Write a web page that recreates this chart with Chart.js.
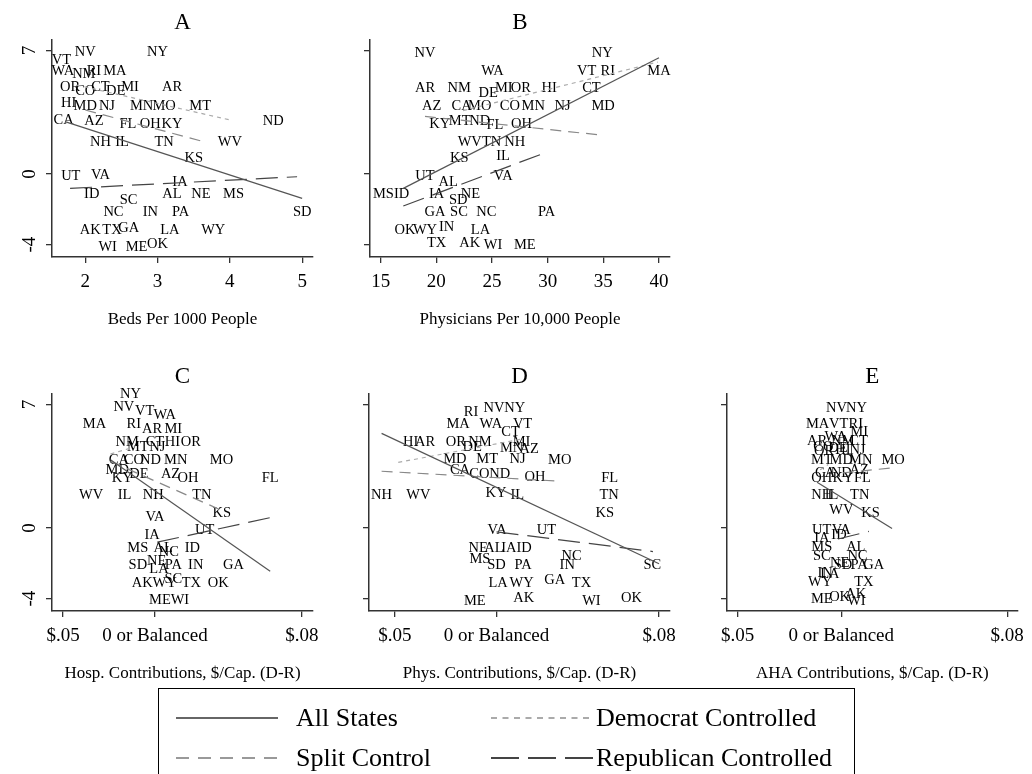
<!DOCTYPE html>
<html>
<head>
<meta charset="utf-8">
<script src="https://cdn.jsdelivr.net/npm/chart.js@4.4.1/dist/chart.umd.min.js"></script>
<style>
  body { margin: 0; background: #fff; }
  #wrap { position: relative; width: 1032px; height: 774px; overflow: hidden; background: #fff; }
  #wrap canvas { position: absolute; left: 0; top: 0; }
  #legend { position: absolute; left: 158px; top: 688px; width: 697px; height: 140px;
            border: 1px solid #000; box-sizing: border-box; font-family: "Liberation Serif", serif; }
  .item { position: absolute; height: 30px; }
  .item svg { position: absolute; top: 0; }
  .item span { position: absolute; top: 0; line-height: 30px; font-size: 26px; color: #000; white-space: nowrap; }
</style>
</head>
<body>
<div id="wrap">
  <canvas id="cA" width="1032" height="774"></canvas>
  <canvas id="cB" width="1032" height="774"></canvas>
  <canvas id="cC" width="1032" height="774"></canvas>
  <canvas id="cD" width="1032" height="774"></canvas>
  <canvas id="cE" width="1032" height="774"></canvas>
  <div id="legend"></div>
</div>
<script>
// State abbreviations (one label per state, same order in every panel)
const states = ['AK','AL','AR','AZ','CA','CO','CT','DE','FL','GA','HI','IA','ID','IL','IN','KS','KY','LA','MA','MD',
                'ME','MI','MN','MO','MS','MT','NC','ND','NE','NH','NJ','NM','NV','NY','OH','OK','OR','PA','RI','SC',
                'SD','TN','TX','UT','VA','VT','WA','WI','WV','WY'];

// Panel A: beds per 1000 people
const xA = [2.07,3.2,3.2,2.12,1.7,2.0,2.21,2.42,2.59,2.6,1.77,3.31,2.09,2.51,2.9,3.5,3.2,3.17,2.41,2.0,
            2.71,2.62,2.78,3.09,4.05,3.59,2.39,4.6,3.6,2.21,2.3,1.98,2.0,3.0,2.9,3.0,1.79,3.32,2.12,2.6,
            5.0,3.09,2.37,1.8,2.21,1.67,1.69,2.31,4.0,3.77];
const yA = [-3.12,-1.1,4.96,3.03,3.12,4.73,4.96,4.73,2.91,-2.99,4.1,-0.38,-1.1,1.89,-2.1,0.95,2.91,-3.12,5.9,3.92,
            -4.09,4.96,3.92,3.92,-1.1,3.92,-2.1,3.03,-1.1,1.89,3.92,5.7,6.94,6.94,2.91,-3.93,4.96,-2.1,5.9,-1.42,
            -2.1,1.89,-3.12,-0.06,0.0,6.5,5.9,-4.09,1.89,-3.12];

// Panel B: physicians per 10,000 people
const xB = [23.0,21.07,18.98,19.58,22.27,26.6,33.93,24.66,25.26,19.87,30.13,20.02,16.88,26.0,20.92,22.06,20.3,23.97,40.0,34.98,
            27.95,26.06,28.7,23.9,15.24,22.1,24.5,23.9,23.07,27.05,31.33,22.06,18.98,34.9,27.65,17.18,27.6,29.9,35.4,22.03,
            21.97,24.96,20.02,18.98,26.0,33.5,25.05,25.1,23.0,18.98];
const yB = [-3.88,-0.38,4.93,3.9,3.9,3.9,4.93,4.65,2.82,-2.09,4.93,-1.09,-1.09,1.07,-2.97,0.94,2.9,-3.1,5.87,3.9,
            -4.0,4.93,3.9,3.9,-1.09,3.05,-2.09,3.05,-1.09,1.88,3.9,4.93,6.9,6.9,2.9,-3.1,4.93,-2.09,5.87,-2.09,
            -1.41,1.88,-3.88,-0.06,-0.06,5.87,5.87,-4.0,1.88,-3.1];

// Panel C: hospital contributions
const xC = [-0.0069,0.0045,-0.0015,0.0085,-0.0196,-0.0115,0.0,-0.0087,0.0627,0.0427,0.0095,-0.0015,0.0204,-0.0165,0.0222,0.0364,-0.0178,0.0022,-0.0329,-0.0205,
            0.0027,0.01,0.0113,0.0362,-0.0093,-0.0093,0.0076,-0.0024,0.0009,-0.0009,0.0013,-0.0151,-0.0169,-0.0133,0.018,0.0344,0.0195,0.01,-0.0115,0.01,
            -0.0093,0.0255,0.0198,0.0271,0.0,-0.0056,0.0053,0.0136,-0.0347,0.0053];
const yC = [-3.05,-1.09,5.65,3.13,3.91,3.91,4.94,3.13,2.9,-2.02,4.94,-0.34,-1.09,1.91,-2.02,0.92,2.9,-2.3,5.93,3.35,
            -4.02,5.65,3.91,3.91,-1.09,4.66,-1.33,3.91,-1.83,1.91,4.62,4.94,6.91,7.62,2.9,-3.05,4.94,-2.02,5.93,-2.86,
            -2.02,1.91,-3.05,-0.06,0.69,6.68,6.46,-4.02,1.91,-3.05];

// Panel D: physician contributions
const xD = [0.0134,-0.0013,-0.0352,0.0161,-0.018,-0.0085,0.0069,-0.012,0.0557,0.0287,-0.0423,0.0061,0.0136,0.0102,0.0348,0.0533,-0.0003,0.0008,-0.0189,-0.0205,
            -0.0107,0.0123,0.0074,0.0311,-0.0082,-0.0046,0.0369,0.0016,-0.009,-0.0566,0.0103,-0.0082,-0.0013,0.009,0.0189,0.0664,-0.02,0.0131,-0.0126,0.0767,
            0.0,0.0554,0.0418,0.0246,0.0003,0.0128,-0.0028,0.0467,-0.0385,0.0123];
const yD = [-3.89,-1.09,4.94,4.53,3.31,3.13,5.47,4.62,2.9,-2.9,4.94,-1.09,-1.09,1.91,-2.06,0.92,2.04,-3.05,5.93,3.97,
            -4.08,4.94,4.57,3.91,-1.7,3.97,-1.55,3.09,-1.09,1.91,3.97,4.94,6.87,6.87,2.94,-3.89,4.94,-2.06,6.63,-2.06,
            -2.06,1.91,-3.05,-0.09,-0.09,5.93,5.93,-4.08,1.91,-3.05];

// Panel E: AHA contributions
const xE = [0.007,0.007,-0.0117,0.0086,-0.0078,-0.0086,0.0083,-0.0016,0.0102,0.0156,0.0008,-0.0094,-0.0011,-0.0047,-0.0078,0.0141,0.0008,-0.0055,-0.0114,0.0,
            -0.0094,0.0086,0.0094,0.025,-0.0094,-0.0094,0.0078,0.0,-0.0008,-0.0094,0.0078,0.0008,-0.0023,0.0073,-0.0094,-0.0008,-0.0083,0.0086,0.007,-0.0094,
            0.0008,0.0089,0.0109,-0.0094,0.0,-0.0013,-0.0027,0.0073,0.0,-0.0102];
const yE = [-3.71,-1.05,5.0,3.35,3.16,4.66,5.0,4.59,2.9,-2.06,4.47,-0.52,-0.34,1.91,-2.49,0.92,2.9,-2.58,5.93,3.91,
            -3.99,5.5,3.91,3.91,-1.05,3.91,-1.52,3.16,-1.93,1.91,4.47,5.0,6.87,6.87,2.9,-3.86,4.44,-2.06,5.93,-1.55,
            -2.06,1.91,-3.01,-0.06,-0.06,5.93,5.22,-4.08,1.07,-3.01];

// Fitted lines per panel: [x1, y1, x2, y2] for All, Democrat, Split, Republican
const linesA = [[1.72,2.97,5.0,-1.38],[1.88,5.05,4.01,3.06],[2.0,3.63,3.59,1.89],[1.79,-0.81,4.93,-0.15]];
const linesB = [[17.03,-0.81,40.0,6.59],[22.4,3.6,39.9,6.35],[18.98,3.27,34.98,2.2],[17.03,-1.81,29.44,1.13]];
const linesC = [[-0.0242,3.87,0.0627,-2.45],[-0.0242,4.2,-0.011,4.6],[-0.0242,3.78,0.0349,1.07],[0.0013,-0.8,0.0631,0.6]];
const linesD = [[-0.0566,5.37,0.08,-2.02],[-0.0484,3.72,0.0115,5.03],[-0.0566,3.22,0.0311,2.66],[0.0,-0.21,0.077,-1.33]];
const linesE = [[-0.0117,2.6,0.0245,-0.02],[-0.0102,3.3,-0.0063,3.6],[0.0008,3.13,0.0245,3.41],[-0.0016,-0.62,0.0133,-0.19]];

const groupNames = ['All States', 'Democrat Controlled', 'Split Control', 'Republican Controlled'];

// Ticks
const yTicks = [-4, 0, 7];
const yTickLabels = ['-4', '0', '7'];
const xTicksA = [2, 3, 4, 5];
const xTicksB = [15, 20, 25, 30, 35, 40];
const xTicksMoney = [-0.05, 0, 0.08];
const xTickLabelsMoney = ['$.05', '0 or Balanced', '$.08'];

const serif = '"Liberation Serif", "Times New Roman", serif';
const lineStyles = [
  { color: '#555', width: 1.2, dash: [] },
  { color: '#aaa', width: 1.2, dash: [4, 4] },
  { color: '#888', width: 1.2, dash: [11, 7] },
  { color: '#444', width: 1.2, dash: [22, 9] }
];

const Y_W = 30;   // fixed width of y axis box
const X_H = 80;   // fixed height of x axis box

const panelText = {
  id: 'panelText',
  beforeDatasetsDraw(chart) {
    const ctx = chart.ctx;
    ctx.save();
    ctx.font = '14.5px ' + serif;
    ctx.fillStyle = '#000';
    ctx.textAlign = 'center';
    ctx.textBaseline = 'middle';
    chart.getDatasetMeta(0).data.forEach((pt, i) => ctx.fillText(states[i], pt.x, pt.y + 1));
    ctx.restore();
  },
  afterDraw(chart, args, opts) {
    const ctx = chart.ctx;
    const area = chart.chartArea;
    ctx.save();
    ctx.fillStyle = '#000';
    ctx.textAlign = 'center';
    ctx.textBaseline = 'middle';
    ctx.font = '23px ' + serif;
    ctx.fillText(opts.title, (area.left + area.right) / 2, area.top - 17);
    if (opts.yLabels) {
      const ys = chart.scales.y;
      ctx.font = '19px ' + serif;
      yTicks.forEach((v, i) => {
        ctx.save();
        ctx.translate(area.left - 22, ys.getPixelForValue(v));
        ctx.rotate(-Math.PI / 2);
        ctx.fillText(yTickLabels[i], 0, 0);
        ctx.restore();
      });
    }
    ctx.restore();
  }
};

function makePanel(id, p) {
  const points = p.xs.map((x, i) => ({ x: x, y: p.ys[i] }));
  const fits = p.lines.map((l, k) => ({
    label: groupNames[k],
    data: [{ x: l[0], y: l[1] }, { x: l[2], y: l[3] }],
    showLine: true,
    borderColor: lineStyles[k].color,
    borderWidth: lineStyles[k].width,
    borderDash: lineStyles[k].dash,
    pointRadius: 0,
    fill: false
  }));
  const axisLine = { color: '#333', width: 1.5 };
  const tickMarks = { drawOnChartArea: false, drawTicks: true, tickLength: 6, color: '#333', lineWidth: 1.3 };
  return new Chart(document.getElementById(id), {
    type: 'scatter',
    data: { datasets: [{ label: 'States', data: points, pointRadius: 0, pointHoverRadius: 0 }].concat(fits) },
    options: {
      responsive: false,
      animation: false,
      events: [],
      layout: { padding: { left: p.area[0] - Y_W, right: 1032 - p.area[1], top: p.area[2], bottom: 774 - p.area[3] - X_H } },
      plugins: {
        legend: { display: false },
        tooltip: { enabled: false },
        panelText: { title: p.title, yLabels: p.yLabels }
      },
      scales: {
        x: {
          type: 'linear', min: p.xRange[0], max: p.xRange[1],
          afterFit: s => { s.height = X_H; },
          afterBuildTicks: s => { s.ticks = p.xTicks.map(v => ({ value: v })); },
          ticks: {
            autoSkip: false, maxRotation: 0, padding: 8, color: '#000',
            font: { family: serif, size: 19 },
            callback: (v, i) => p.xTickLabels[i]
          },
          grid: tickMarks,
          border: axisLine,
          title: { display: true, text: p.xTitle, color: '#000', font: { family: serif, size: 17 }, padding: { top: 0, bottom: 7 } }
        },
        y: {
          type: 'linear', min: -4.7, max: 7.6,
          afterFit: s => { s.width = Y_W; },
          afterBuildTicks: s => { s.ticks = yTicks.map(v => ({ value: v })); },
          ticks: { display: false },
          grid: tickMarks,
          border: axisLine
        }
      }
    },
    plugins: [panelText]
  });
}

makePanel('cA', { title: 'A', xs: xA, ys: yA, lines: linesA, area: [52, 313, 40, 257], xRange: [1.54, 5.15],
  xTicks: xTicksA, xTickLabels: xTicksA.map(String), xTitle: 'Beds Per 1000 People', yLabels: true });
makePanel('cB', { title: 'B', xs: xB, ys: yB, lines: linesB, area: [370, 670, 40, 257], xRange: [14.04, 40.99],
  xTicks: xTicksB, xTickLabels: xTicksB.map(String), xTitle: 'Physicians Per 10,000 People', yLabels: false });
makePanel('cC', { title: 'C', xs: xC, ys: yC, lines: linesC, area: [52, 313, 394, 611], xRange: [-0.056, 0.086],
  xTicks: xTicksMoney, xTickLabels: xTickLabelsMoney, xTitle: 'Hosp. Contributions, $/Cap. (D-R)', yLabels: true });
makePanel('cD', { title: 'D', xs: xD, ys: yD, lines: linesD, area: [369, 670, 394, 611], xRange: [-0.0628, 0.0854],
  xTicks: xTicksMoney, xTickLabels: xTickLabelsMoney, xTitle: 'Phys. Contributions, $/Cap. (D-R)', yLabels: false });
makePanel('cE', { title: 'E', xs: xE, ys: yE, lines: linesE, area: [727, 1027, 394, 611], xRange: [-0.0551, 0.0851],
  xTicks: xTicksMoney, xTickLabels: xTickLabelsMoney, xTitle: 'AHA Contributions, $/Cap. (D-R)', yLabels: false });

// Legend box (2 x 2 grid of line samples)
const legendSlots = [[17, 29], [332, 29], [17, 69], [332, 69]];
const legendDash = ['', '6,5.5', '13,9', '28,9'];
const legendColor = ['#666', '#aaa', '#999', '#444'];
const legend = document.getElementById('legend');
groupNames.forEach((name, k) => {
  const item = document.createElement('div');
  item.className = 'item';
  item.style.left = legendSlots[k][0] + 'px';
  item.style.top = (legendSlots[k][1] - 15) + 'px';
  item.innerHTML = '<svg width="102" height="30"><line x1="0" y1="15" x2="102" y2="15" stroke="' + legendColor[k] +
    '" stroke-width="2.2" stroke-dasharray="' + legendDash[k] + '"/></svg><span style="left:' + (k % 2 === 0 ? 120 : 105) + 'px">' + name + '</span>';
  legend.appendChild(item);
});
</script>
</body>
</html>
